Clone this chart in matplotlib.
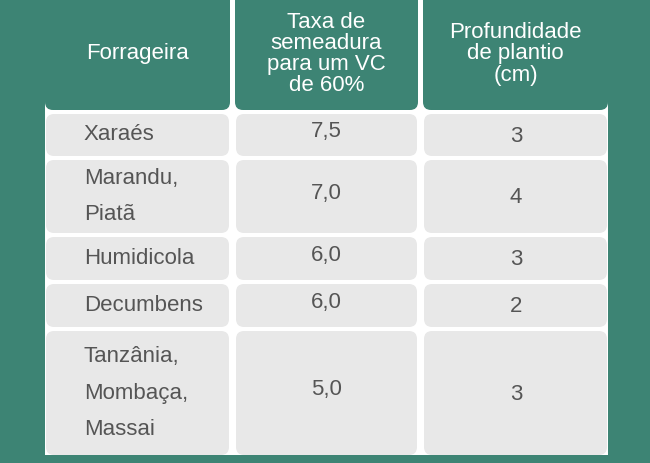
import matplotlib
matplotlib.use("Agg")
import matplotlib.pyplot as plt
from matplotlib.patches import FancyBboxPatch, Rectangle

headers = ["Forrageira", "Taxa de\nsemeadura\npara um VC\nde 60%", "Profundidade\nde plantio\n(cm)"]
forrageiras = ["Xaraés", "Marandu,\nPiatã", "Humidicola", "Decumbens", "Tanzânia,\nMombaça,\nMassai"]
taxas = ["7,5", "7,0", "6,0", "6,0", "5,0"]
profundidades = ["3", "4", "3", "2", "3"]

BG = "#3d8474"
CELL = "#e8e8e8"
TXT = "#555555"

fig = plt.figure(figsize=(6.5, 4.63), dpi=100)
fig.patch.set_facecolor(BG)
ax = fig.add_axes([0, 0, 1, 1])
ax.set_xlim(0, 650); ax.set_ylim(463, 0); ax.axis("off")

cols = [(45, 230), (235, 418), (423, 608)]
head = (-10, 110)
rows = [(114, 156), (160, 233), (237, 280), (284, 327), (331, 455)]

ax.add_patch(Rectangle((45, -5), 563, 460, facecolor="white", edgecolor="none"))
fam = ["Liberation Sans", "DejaVu Sans"]
for j, ((x0, x1), h) in enumerate(zip(cols, headers)):
    ax.add_patch(FancyBboxPatch((x0 + 4 if j else x0 + 4, head[0]), x1 - x0 - 8, head[1] - head[0] - 4,
                                boxstyle="round,pad=4,rounding_size=8", facecolor=BG, edgecolor="none"))
    ax.text((x0 + x1) / 2, 54, h, color="white", fontsize=16, ha="center", va="center",
            linespacing=1.0, family=fam)

for i, (y0, y1) in enumerate(rows):
    for (x0, x1) in cols:
        ax.add_patch(FancyBboxPatch((x0 + 5, y0 + 4), x1 - x0 - 10, y1 - y0 - 8,
                                    boxstyle="round,pad=4,rounding_size=8", facecolor=CELL, edgecolor="none"))
    yc = (y0 + y1) / 2
    ax.text(84, yc, forrageiras[i], color=TXT, fontsize=16, ha="left", va="center",
            linespacing=1.95, family=fam)
    ax.text(326, yc - 3, taxas[i], color=TXT, fontsize=16, ha="center", va="center", family=fam)
    ax.text(516, yc + 1, profundidades[i], color=TXT, fontsize=16, ha="center", va="center", family=fam)

fig.savefig("out.png", dpi=100, facecolor=BG)
